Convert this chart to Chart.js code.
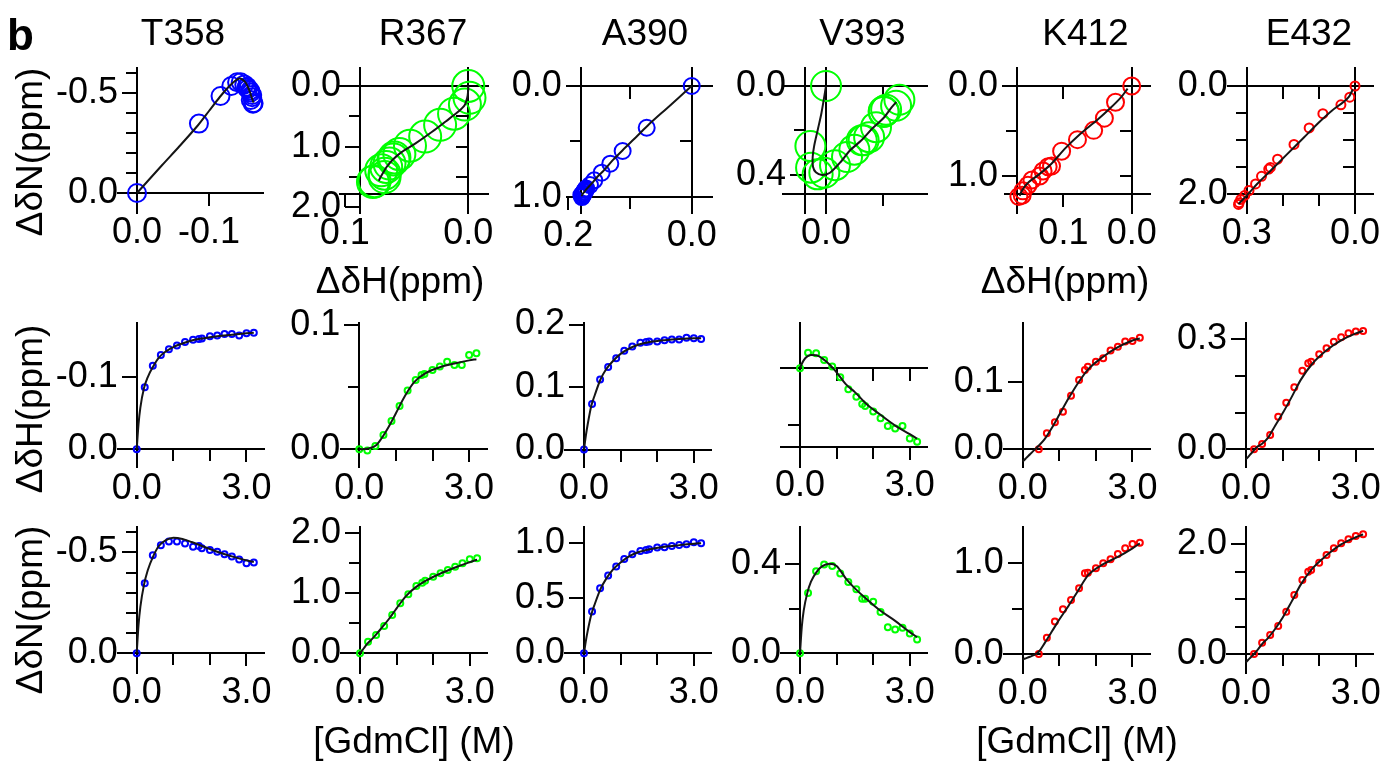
<!DOCTYPE html>
<html>
<head>
<meta charset="utf-8">
<script src="https://cdn.jsdelivr.net/npm/chart.js@4.4.0/dist/chart.umd.min.js"></script>
<style>
  body { margin: 0; background: #fff; }
  #fig { position: relative; width: 1393px; height: 768px; overflow: hidden; font-family: "Liberation Sans", Arial, sans-serif; color: #000; }
  #fig canvas { position: absolute; }
  .lbl { position: absolute; transform: translate(-50%, -50%); font-size: 37px; line-height: 1; white-space: nowrap; }
  .rot { transform: translate(-50%, -50%) rotate(-90deg); }
  .tag { position: absolute; left: 7px; top: 13px; font-size: 44px; font-weight: bold; line-height: 1; }
</style>
</head>
<body>
<div id="fig"></div>
<script>
// GdmCl concentrations of the titration (M), same for every residue
var conc = [0, 0.22, 0.44, 0.66, 0.88, 1.1, 1.32, 1.54, 1.7, 1.78, 2.0, 2.2, 2.4, 2.6, 2.8, 3.0, 3.2];
// concentrations at which the fitted curves are sampled
var fitConc = [0, 0.05, 0.1, 0.2, 0.3, 0.45, 0.6, 0.8, 1.0, 1.25, 1.5, 1.8, 2.2, 2.6, 3.0, 3.2];

var residues = ['T358', 'R367', 'A390', 'V393', 'K412', 'E432'];

// chemical shift changes (ppm); null = not measured at that concentration
var dH_T358 = [0, -0.086, -0.116, -0.131, -0.139, -0.144, -0.149, -0.152, -0.153, -0.154, -0.157, -0.158, -0.160, -0.160, -0.158, -0.161, -0.162];
var dN_T358 = [0, -0.347, -0.485, -0.535, -0.554, -0.554, -0.543, -0.528, -0.531, -0.520, -0.512, -0.503, -0.490, -0.479, -0.465, -0.446, -0.449];
var dH_R367 = [0, -0.001, 0.0027, 0.0115, 0.0228, 0.0349, 0.0472, 0.0558, 0.0598, 0.0606, 0.0638, 0.0665, 0.0705, 0.0678, 0.0678, 0.0759, 0.0772];
var dN_R367 = [0, 0.194, 0.306, 0.456, 0.639, 0.833, 0.983, 1.122, 1.178, 1.211, 1.278, 1.333, 1.389, 1.444, 1.500, 1.567, 1.583];
var dH_A390 = [0, 0.073, 0.112, 0.132, 0.146, 0.158, 0.165, 0.171, 0.172, 0.173, 0.173, 0.175, 0.176, 0.176, 0.179, 0.178, 0.177];
var dN_A390 = [0, 0.377, 0.587, 0.702, 0.783, 0.852, 0.895, 0.925, 0.934, 0.940, 0.955, 0.958, 0.970, 0.979, 0.985, 1.003, 0.994];
var dH_V393 = [0, 0.0138, 0.0132, 0.0074, 0.0015, -0.0079, -0.0185, -0.025, -0.0315, -0.0332, -0.038, -0.0441, -0.0509, -0.053, -0.0509, -0.0618, -0.0647];
var dN_V393 = [0, 0.270, 0.367, 0.397, 0.390, 0.356, 0.319, 0.286, 0.244, 0.244, 0.230, 0.185, 0.117, 0.107, 0.114, 0.089, 0.062];
var dH_K412 = [null, null, 0, 0.0237, 0.040, 0.0557, 0.0794, 0.1026, 0.1174, 0.1223, 0.1297, 0.1346, 0.146, 0.1519, 0.1593, 0.1603, 0.1652];
var dN_K412 = [null, null, 0, 0.180, 0.357, 0.493, 0.596, 0.724, 0.890, 0.897, 0.945, 1.000, 1.044, 1.103, 1.165, 1.213, 1.228];
var dH_E432 = [null, 0, 0.0145, 0.039, 0.089, 0.127, 0.169, 0.2145, 0.2345, 0.239, 0.259, 0.2755, 0.2936, 0.3055, 0.3164, 0.321, 0.3227];
var dN_E432 = [null, 0, 0.207, 0.347, 0.511, 0.773, 1.077, 1.350, 1.502, 1.533, 1.667, 1.807, 1.928, 2.019, 2.092, 2.153, 2.184];

// fitted curves, sampled at fitConc
var fitH_T358 = [0, -0.035, -0.058, -0.085, -0.100, -0.115, -0.127, -0.136, -0.142, -0.147, -0.151, -0.154, -0.157, -0.159, -0.161, -0.162];
var fitN_T358 = [0, -0.14, -0.23, -0.34, -0.41, -0.48, -0.53, -0.56, -0.572, -0.566, -0.551, -0.53, -0.503, -0.48, -0.46, -0.452];
var fitH_R367 = [0, 0, 0.0001, 0.0005, 0.0012, 0.003, 0.0085, 0.018, 0.029, 0.043, 0.054, 0.061, 0.066, 0.069, 0.0715, 0.0725];
var fitN_R367 = [0, 0.04, 0.08, 0.16, 0.22, 0.32, 0.43, 0.58, 0.75, 0.95, 1.09, 1.21, 1.33, 1.43, 1.52, 1.56];
var fitH_A390 = [0, 0.022, 0.040, 0.070, 0.088, 0.112, 0.128, 0.142, 0.153, 0.162, 0.168, 0.172, 0.175, 0.177, 0.178, 0.178];
var fitN_A390 = [0, 0.11, 0.20, 0.35, 0.45, 0.58, 0.67, 0.76, 0.82, 0.88, 0.915, 0.94, 0.962, 0.977, 0.99, 0.995];
var fitH_V393 = [0, 0.004, 0.007, 0.0105, 0.0118, 0.0115, 0.009, 0.0035, -0.0035, -0.014, -0.021, -0.031, -0.041, -0.0505, -0.058, -0.062];
var fitN_V393 = [0, 0.12, 0.19, 0.27, 0.32, 0.363, 0.388, 0.40, 0.39, 0.335, 0.29, 0.245, 0.19, 0.145, 0.095, 0.072];
var fitH_K412 = [-0.018, -0.0155, -0.0127, -0.0074, -0.002, 0.006, 0.015, 0.032, 0.051, 0.075, 0.097, 0.119, 0.137, 0.151, 0.161, 0.164];
var fitN_K412 = [-0.059, -0.052, -0.045, -0.03, -0.013, 0.03, 0.12, 0.25, 0.38, 0.53, 0.69, 0.875, 0.99, 1.07, 1.165, 1.22];
var fitH_E432 = [-0.027, -0.022, -0.016, -0.005, 0.006, 0.016, 0.031, 0.065, 0.098, 0.143, 0.19, 0.232, 0.27, 0.297, 0.316, 0.323];
var fitN_E432 = [-0.15, -0.115, -0.08, -0.015, 0.06, 0.19, 0.29, 0.46, 0.66, 0.96, 1.27, 1.55, 1.8, 2.0, 2.13, 2.18];

var series = {
  T358: { dH: dH_T358, dN: dN_T358, fitH: fitH_T358, fitN: fitN_T358 },
  R367: { dH: dH_R367, dN: dN_R367, fitH: fitH_R367, fitN: fitN_R367 },
  A390: { dH: dH_A390, dN: dN_A390, fitH: fitH_A390, fitN: fitN_A390 },
  V393: { dH: dH_V393, dN: dN_V393, fitH: fitH_V393, fitN: fitN_V393 },
  K412: { dH: dH_K412, dN: dN_K412, fitH: fitH_K412, fitN: fitN_K412 },
  E432: { dH: dH_E432, dN: dN_E432, fitH: fitH_E432, fitN: fitN_E432 }
};

// marker colour and ring radius used in the top (correlation) row
var look = {
  T358: { color: '#0000ff', ring: 9 },
  R367: { color: '#00ff00', ring: 16 },
  A390: { color: '#0000ff', ring: 8 },
  V393: { color: '#00ff00', ring: 15 },
  K412: { color: '#ff0000', ring: 8.5 },
  E432: { color: '#ff0000', ring: 4.5 }
};

var INK = '#000';
var FONT = 'Liberation Sans, Arial, sans-serif';
var PX_PER_M = 36.6;
var MID = [322.7, 467];
var BOT = [527.3, 673];
var YLABEL_GAP = 19;   // px between a y axis line and the right edge of its labels

function curveBox(axPx, rows) {
  return [axPx - 0.51 * PX_PER_M, rows[0], axPx + 3.48 * PX_PER_M, rows[1]];
}

// box = chart area in page pixels, x/y = value at the area edges,
// axes = lines placed at a value of the other axis
var panels = [
  { res: 'T358', kind: 'map', box: [118, 68, 263, 213], x: [-0.175, 0.0264], y: [-0.625, 0.1],
    axes: [{ dir: 'y', at: 0, major: [-0.5, 0], minor: [-0.6, -0.4, -0.3, -0.2, -0.1] },
           { dir: 'x', at: 0, major: [0, -0.1] }] },
  { res: 'R367', kind: 'map', box: [340, 68, 488, 213], x: [-0.016, 0.1039], y: [-0.2965, 2.092],
    axes: [{ dir: 'y', at: 0.0877, major: [0, 1, 2], minor: [0.5, 1.5] },
           { dir: 'y', at: 0, minor: [0.5, 1, 1.5] },
           { dir: 'x', at: 1.78, major: [0.1, 0] },
           { dir: 'x', at: 0, minor: [] }] },
  { res: 'A390', kind: 'map', box: [566.7, 68, 711.7, 213], x: [-0.0324, 0.2027], y: [-0.1626, 1.147],
    axes: [{ dir: 'y', at: 0.18, major: [0, 1], minor: [0.5] },
           { dir: 'y', at: 0, minor: [0.5] },
           { dir: 'x', at: 1.0, major: [0.2, 0], minor: [0.1] },
           { dir: 'x', at: 0, minor: [0.1] }] },
  { res: 'V393', kind: 'map', box: [783.3, 68, 926.7, 213], x: [-0.0888, 0.0377], y: [-0.0809, 0.5708],
    axes: [{ dir: 'y', at: 0.0185, major: [0, 0.4], minor: [0.2] },
           { dir: 'y', at: 0, minor: [] },
           { dir: 'x', at: 0.487, major: [0], minor: [-0.05] },
           { dir: 'x', at: 0, minor: [-0.05] }] },
  { res: 'K412', kind: 'map', box: [1005, 68, 1150, 213], x: [-0.0268, 0.1855], y: [-0.2, 1.411],
    axes: [{ dir: 'y', at: 0.168, major: [0, 1], minor: [0.5] },
           { dir: 'y', at: 0, minor: [0.5, 1] },
           { dir: 'x', at: 1.203, major: [0.1, 0] },
           { dir: 'x', at: 0, minor: [0.1] }] },
  { res: 'E432', kind: 'map', box: [1228.3, 68, 1373.3, 213], x: [-0.0507, 0.351], y: [-0.332, 2.343],
    axes: [{ dir: 'y', at: 0.3, major: [0, 2], minor: [0.5, 1, 1.5] },
           { dir: 'y', at: 0, minor: [0.5, 1, 1.5] },
           { dir: 'x', at: 2.0, major: [0.3, 0], minor: [0.2, 0.1] },
           { dir: 'x', at: 0, minor: [0.2, 0.1] }] },

  // middle row: ΔδH against [GdmCl]
  { res: 'T358', kind: 'H', box: curveBox(136.7, MID), y: [-0.1758, 0.0246], yRev: true,
    axes: [{ dir: 'y', at: 0, major: [-0.1, 0] }, { dir: 'x', at: 0, major: [0, 3], minor: [1, 2] }] },
  { res: 'R367', kind: 'H', box: curveBox(359.3, MID), y: [-0.0142, 0.1018],
    axes: [{ dir: 'y', at: 0, major: [0, 0.1], minor: [0.05] }, { dir: 'x', at: 0, major: [0, 3], minor: [1, 2] }] },
  { res: 'A390', kind: 'H', box: curveBox(584, MID), y: [-0.028, 0.2029],
    axes: [{ dir: 'y', at: 0, major: [0, 0.1, 0.2] }, { dir: 'x', at: 0, major: [0, 3], minor: [1, 2] }] },
  { res: 'V393', kind: 'H', box: curveBox(800, MID), y: [-0.087, 0.0402],
    axes: [{ dir: 'y', at: 0, minor: [-0.05] }, { dir: 'x', at: -0.0691, major: [0, 3], minor: [1, 2] },
           { dir: 'x', at: 0, minor: [1, 2, 3] }] },
  { res: 'K412', kind: 'H', box: curveBox(1022.7, MID), y: [-0.0262, 0.1873],
    axes: [{ dir: 'y', at: 0, major: [0, 0.1] }, { dir: 'x', at: 0, major: [0, 3], minor: [1, 2] }] },
  { res: 'E432', kind: 'H', box: curveBox(1246, MID), y: [-0.0483, 0.3453],
    axes: [{ dir: 'y', at: 0, major: [0, 0.3], minor: [0.1, 0.2] }, { dir: 'x', at: 0, major: [0, 3], minor: [1, 2] }] },

  // bottom row: ΔδN against [GdmCl]
  { res: 'T358', kind: 'N', box: curveBox(136.7, BOT), y: [-0.6238, 0.0975], yRev: true,
    axes: [{ dir: 'y', at: 0, major: [-0.5, 0], minor: [-0.6, -0.4, -0.3, -0.2, -0.1] },
           { dir: 'x', at: 0, major: [0, 3], minor: [1, 2] }] },
  { res: 'R367', kind: 'N', box: curveBox(360, BOT), y: [-0.328, 2.1],
    axes: [{ dir: 'y', at: 0, major: [0, 1, 2], minor: [0.5, 1.5] }, { dir: 'x', at: 0, major: [0, 3], minor: [1, 2] }] },
  { res: 'A390', kind: 'N', box: curveBox(584, BOT), y: [-0.178, 1.138],
    axes: [{ dir: 'y', at: 0, major: [0, 0.5, 1] }, { dir: 'x', at: 0, major: [0, 3], minor: [1, 2] }] },
  { res: 'V393', kind: 'N', box: curveBox(800, BOT), y: [-0.0876, 0.5627],
    axes: [{ dir: 'y', at: 0, major: [0, 0.4], minor: [0.2] }, { dir: 'x', at: 0, major: [0, 3], minor: [1, 2] }] },
  { res: 'K412', kind: 'N', box: curveBox(1022.7, BOT), y: [-0.2095, 1.397],
    axes: [{ dir: 'y', at: 0, major: [0, 1], minor: [0.5] }, { dir: 'x', at: 0, major: [0, 3], minor: [1, 2] }] },
  { res: 'E432', kind: 'N', box: curveBox(1246, BOT), y: [-0.347, 2.312],
    axes: [{ dir: 'y', at: 0, major: [0, 2], minor: [0.5, 1, 1.5] }, { dir: 'x', at: 0, major: [0, 3], minor: [1, 2] }] }
];

function fmt(v) {
  return Number(v).toFixed(1);
}

function makeScales(p) {
  var scales = {};
  var count = { x: 0, y: 0 };
  var xRange = p.kind === 'map' ? p.x : [-0.51, 3.48];
  var xRev = p.kind === 'map';
  // x value per page pixel, used to set y labels off their axis line
  var xPerPx = (xRange[1] - xRange[0]) / (p.box[2] - p.box[0]);
  p.axes.forEach(function (a) {
    var isX = a.dir === 'x';
    var parts = [];
    if (a.major && isX) {
      parts.push({ vals: a.major, at: a.at, labels: true, ticks: true, tl: 12, border: true });
    } else if (a.major) {
      parts.push({ vals: a.major, at: a.at, labels: false, ticks: true, tl: 14, border: true });
      var shift = YLABEL_GAP * xPerPx;
      parts.push({ vals: a.major, at: xRev ? a.at + shift : a.at - shift, labels: true, ticks: false, tl: 0, border: false });
    }
    if (a.minor) parts.push({ vals: a.minor, at: a.at, labels: false, ticks: true, tl: isX ? 12 : 11, border: !a.major });
    parts.forEach(function (part) {
      var id = a.dir + count[a.dir]++;
      var pos = {};
      pos[isX ? 'y0' : 'x0'] = part.at;
      scales[id] = {
        type: 'linear',
        axis: a.dir,
        position: pos,
        bounds: 'data',
        min: isX ? xRange[0] : p.y[0],
        max: isX ? xRange[1] : p.y[1],
        reverse: isX ? xRev : (xRev || !!p.yRev),
        afterBuildTicks: function (sc) {
          sc.ticks = part.vals.map(function (v) { return { value: v }; });
        },
        grid: { display: true, drawOnChartArea: false, drawTicks: part.ticks, tickLength: part.tl, color: INK, lineWidth: 2 },
        border: { display: part.border, color: INK, width: 2 },
        ticks: { display: part.labels, autoSkip: false, maxRotation: 0, padding: isX ? 6 : 0,
                 color: INK, font: { family: FONT, size: 36 }, callback: fmt }
      };
    });
  });
  return scales;
}

function pointsFor(p) {
  var s = series[p.res];
  var pts = [];
  conc.forEach(function (c, i) {
    if (s.dH[i] == null) return;
    if (p.kind === 'map') pts.push({ x: s.dH[i], y: s.dN[i] });
    else pts.push({ x: c, y: p.kind === 'H' ? s.dH[i] : s.dN[i] });
  });
  return pts;
}

function fitFor(p) {
  var s = series[p.res];
  if (p.kind === 'map') {
    // keep the part of the fitted path on the same side as the end point
    var last = s.fitN[s.fitN.length - 1];
    return fitConc.map(function (c, i) { return { x: s.fitH[i], y: s.fitN[i] }; })
      .filter(function (pt) { return pt.y * last >= 0; });
  }
  var ys = p.kind === 'H' ? s.fitH : s.fitN;
  return fitConc.map(function (c, i) { return { x: c, y: ys[i] }; });
}

var fig = document.getElementById('fig');
var PAD = { left: 110, top: 40, right: 30, bottom: 70 };

panels.forEach(function (p) {
  var left = Math.floor(p.box[0]) - PAD.left;
  var top = Math.floor(p.box[1]) - PAD.top;
  var width = Math.ceil(p.box[2]) + PAD.right - left;
  var height = Math.ceil(p.box[3]) + PAD.bottom - top;
  var cv = document.createElement('canvas');
  cv.width = width;
  cv.height = height;
  cv.style.left = left + 'px';
  cv.style.top = top + 'px';
  cv.style.width = width + 'px';
  cv.style.height = height + 'px';
  fig.appendChild(cv);

  var isMap = p.kind === 'map';
  var col = look[p.res].color;
  new Chart(cv, {
    type: 'scatter',
    data: {
      datasets: [{
        data: fitFor(p),
        xAxisID: 'x0', yAxisID: 'y0',
        showLine: true,
        pointRadius: 0,
        borderColor: '#151515',
        borderWidth: 2,
        tension: isMap ? 0.3 : 0,
        cubicInterpolationMode: isMap ? 'default' : 'monotone',
        clip: false
      }, {
        data: pointsFor(p),
        xAxisID: 'x0', yAxisID: 'y0',
        showLine: false,
        pointRadius: isMap ? look[p.res].ring : 3,
        pointBorderWidth: 2,
        borderColor: col,
        pointBorderColor: col,
        pointBackgroundColor: 'rgba(0,0,0,0)',
        backgroundColor: 'rgba(0,0,0,0)',
        clip: false
      }]
    },
    options: {
      responsive: false,
      animation: false,
      devicePixelRatio: 1,
      events: [],
      layout: {
        padding: {
          left: p.box[0] - left,
          top: p.box[1] - top,
          right: width - (p.box[2] - left),
          bottom: height - (p.box[3] - top)
        }
      },
      plugins: { legend: { display: false }, tooltip: { enabled: false }, title: { display: false } },
      scales: makeScales(p)
    }
  });
});

// panel letter, residue names and axis titles
function addText(txt, x, y, extra) {
  var d = document.createElement('div');
  d.className = 'lbl' + (extra ? ' ' + extra : '');
  d.textContent = txt;
  d.style.left = x + 'px';
  d.style.top = y + 'px';
  fig.appendChild(d);
}

var tag = document.createElement('div');
tag.className = 'tag';
tag.textContent = 'b';
fig.appendChild(tag);

var titleX = [183, 423, 645, 862.5, 1085.5, 1309];
residues.forEach(function (r, i) { addText(r, titleX[i], 32); });

addText('ΔδN(ppm)', 29, 152, 'rot');
addText('ΔδH(ppm)', 29, 409, 'rot');
addText('ΔδN(ppm)', 29, 610, 'rot');
addText('ΔδH(ppm)', 400, 280);
addText('ΔδH(ppm)', 1065, 280);
addText('[GdmCl] (M)', 414, 740);
addText('[GdmCl] (M)', 1077, 740);
</script>
</body>
</html>
